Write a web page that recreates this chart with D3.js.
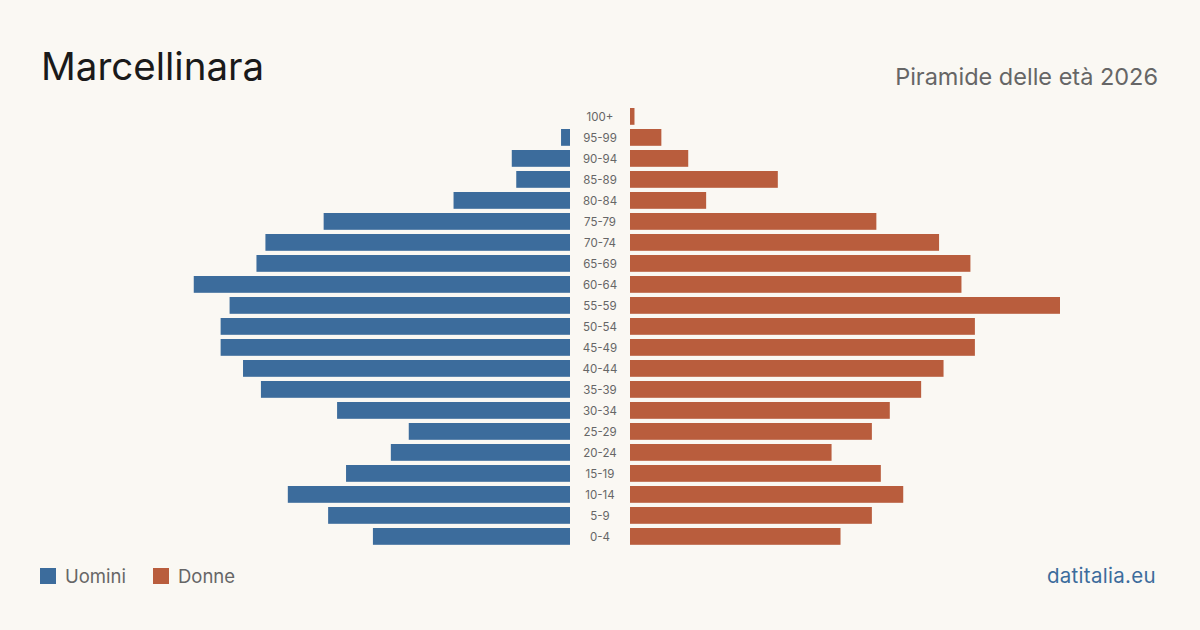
<!DOCTYPE html>
<html>
<head>
<meta charset="utf-8">
<script src="https://cdn.jsdelivr.net/npm/d3@7"></script>
<style>
  html, body { margin: 0; padding: 0; background: #faf8f3; }
  svg { display: block; font-family: Inter, "Noto Sans", sans-serif; }
</style>
</head>
<body>
<div id="chart"></div>
<script>
// Age groups, top to bottom
const ages = ['100+', '95-99', '90-94', '85-89', '80-84', '75-79', '70-74', '65-69', '60-64',
  '55-59', '50-54', '45-49', '40-44', '35-39', '30-34', '25-29', '20-24', '15-19', '10-14', '5-9', '0-4'];

// Residents per group
const men   = [0, 2, 13, 12, 26, 55, 68, 70, 84, 76, 78, 78, 73, 69, 52, 36, 40, 50, 63, 54, 44];
const women = [1, 7, 13, 33, 17, 55, 69, 76, 74, 96, 77, 77, 70, 65, 58, 54, 45, 56, 61, 54, 47];

const legendItems = [
  { label: 'Uomini', color: '#3c6c9c' },
  { label: 'Donne', color: '#b95d3d' },
];

const width = 1200;
const height = 630;

const svg = d3.select('#chart').append('svg')
  .attr('width', width)
  .attr('height', height);

svg.append('rect').attr('width', width).attr('height', height).attr('fill', '#faf8f3');

// Scales
const y = d3.scaleBand()
  .domain(ages)
  .range([105.9, 546.9])
  .paddingInner(0.2)
  .paddingOuter(0.1);

const len = d3.scaleLinear().domain([0, 96]).range([0, 430]);

const leftEdge = 570;
const rightEdge = 630;

// Men bars (left)
svg.append('g')
  .selectAll('rect')
  .data(ages.map((a, i) => ({ age: a, value: men[i] })))
  .join('rect')
  .attr('x', d => leftEdge - len(d.value))
  .attr('y', d => y(d.age))
  .attr('width', d => len(d.value))
  .attr('height', y.bandwidth())
  .attr('fill', legendItems[0].color);

// Women bars (right)
svg.append('g')
  .selectAll('rect')
  .data(ages.map((a, i) => ({ age: a, value: women[i] })))
  .join('rect')
  .attr('x', rightEdge)
  .attr('y', d => y(d.age))
  .attr('width', d => len(d.value))
  .attr('height', y.bandwidth())
  .attr('fill', legendItems[1].color);

// Age labels in the middle
svg.append('g')
  .selectAll('text')
  .data(ages)
  .join('text')
  .attr('x', (leftEdge + rightEdge) / 2)
  .attr('y', d => y(d) + y.bandwidth() / 2)
  .attr('dy', '0.36em')
  .attr('text-anchor', 'middle')
  .attr('font-size', 11.5)
  .attr('fill', '#666')
  .text(d => d);

// Titles
svg.append('text')
  .attr('x', 41)
  .attr('y', 80)
  .attr('font-size', 38.5)
  .attr('fill', '#1a1a1a')
  .text('Marcellinara');

svg.append('text')
  .attr('x', 1158)
  .attr('y', 85)
  .attr('text-anchor', 'end')
  .attr('font-size', 23.5)
  .attr('fill', '#666')
  .text('Piramide delle età 2026');

// Legend
const legend = svg.append('g');
const legendX = [40, 153];
legend.selectAll('rect')
  .data(legendItems)
  .join('rect')
  .attr('x', (d, i) => legendX[i])
  .attr('y', 568)
  .attr('width', 16)
  .attr('height', 16)
  .attr('fill', d => d.color);

legend.selectAll('text')
  .data(legendItems)
  .join('text')
  .attr('x', (d, i) => legendX[i] + 25)
  .attr('y', 583)
  .attr('font-size', 18.5)
  .attr('fill', '#666')
  .text(d => d.label);

svg.append('text')
  .attr('x', 1156)
  .attr('y', 583)
  .attr('text-anchor', 'end')
  .attr('font-size', 20.5)
  .attr('letter-spacing', 0.3)
  .attr('fill', '#3c6c9c')
  .text('datitalia.eu');
</script>
</body>
</html>
